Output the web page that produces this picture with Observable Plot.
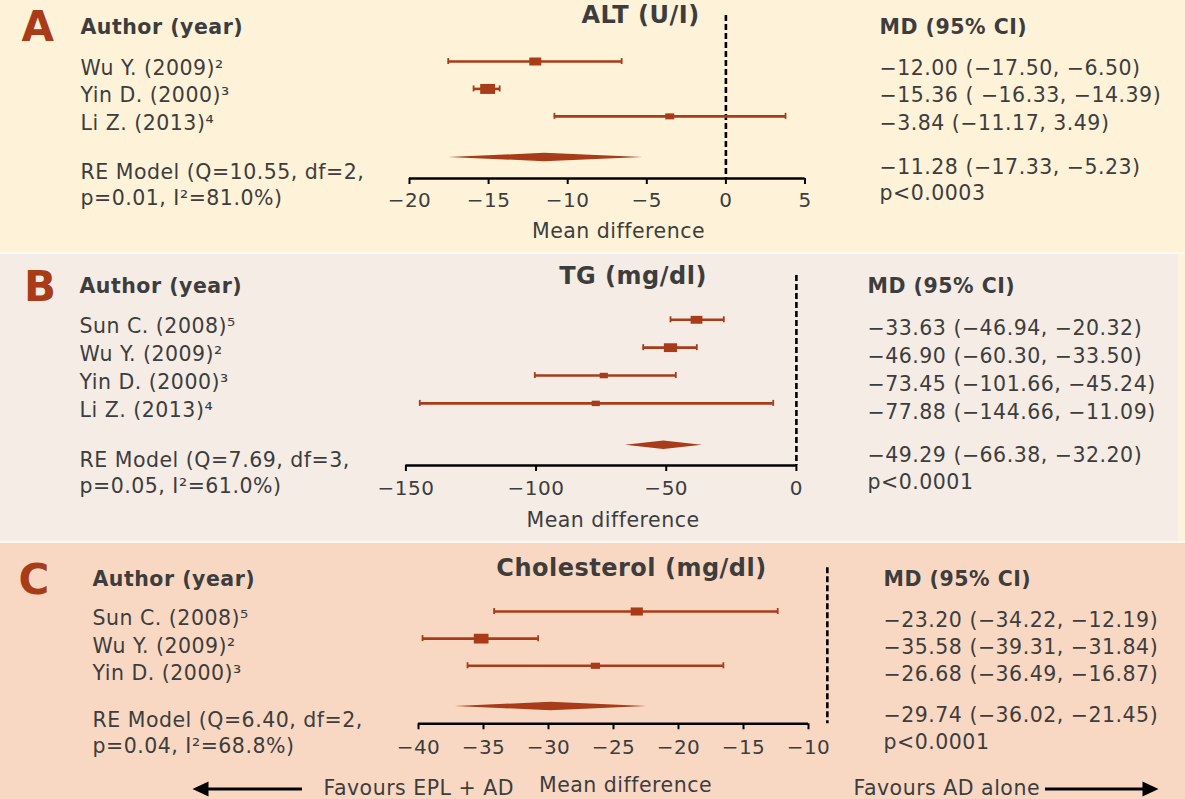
<!DOCTYPE html>
<html><head><meta charset="utf-8">
<script src="https://cdn.jsdelivr.net/npm/d3@7"></script>
<script src="https://cdn.jsdelivr.net/npm/@observablehq/plot@0.6"></script>
<style>
html,body{margin:0;padding:0;background:#fdf9f2;overflow:hidden;}
#chart{width:1185px;}
#chart svg{display:block;max-width:none;}
.gap{height:2px;}
</style></head><body><div id="chart"></div>
<script>
// ================= DATA =================
// Panel A – ALT (U/I)
const altStudies   = ["Wu Y. (2009)²", "Yin D. (2000)³", "Li Z. (2013)⁴"];
const altMD        = [-12.05, -15.06, -3.55];
const altLower     = [-17.55, -15.95, -10.84];
const altUpper     = [-6.59, -14.30, 3.77];
const altWeight    = [32, 50, 18];
const altCI        = ["−12.00 (−17.50, −6.50)", "−15.36 ( −16.33, −14.39)", "−3.84 (−11.17, 3.49)"];
const altPooled    = [-11.46, -17.53, -5.26];          // estimate, lower, upper
const altModel     = "RE Model (Q=10.55, df=2,\np=0.01, I²=81.0%)";
const altPooledTxt = "−11.28 (−17.33, −5.23)\np<0.0003";
const altTicks     = [-20, -15, -10, -5, 0, 5];
const altDomain    = [-20, 5];
const altRef       = 0;

// Panel B – TG (mg/dl)
const tgStudies   = ["Sun C. (2008)⁵", "Wu Y. (2009)²", "Yin D. (2000)³", "Li Z. (2013)⁴"];
const tgMD        = [-38.37, -48.36, -73.98, -77.06];
const tgLower     = [-48.36, -58.84, -100.49, -144.67];
const tgUpper     = [-27.88, -38.25, -46.32, -8.90];
const tgWeight    = [31, 39, 15, 15];
const tgCI        = ["−33.63 (−46.94, −20.32)", "−46.90 (−60.30, −33.50)", "−73.45 (−101.66, −45.24)", "−77.88 (−144.66, −11.09)"];
const tgPooled    = [-50.93, -65.64, -36.18];
const tgModel     = "RE Model (Q=7.69, df=3,\np=0.05, I²=61.0%)";
const tgPooledTxt = "−49.29 (−66.38, −32.20)\np<0.0001";
const tgTicks     = [-150, -100, -50, 0];
const tgDomain    = [-150, 0];
const tgRef       = 0;

// Panel C – Cholesterol (mg/dl)
const chStudies   = ["Sun C. (2008)⁵", "Wu Y. (2009)²", "Yin D. (2000)³"];
const chMD        = [-23.21, -35.18, -26.39];
const chLower     = [-34.18, -39.69, -36.23];
const chUpper     = [-12.37, -30.80, -16.55];
const chWeight    = [33, 48, 19];
const chCI        = ["−23.20 (−34.22, −12.19)", "−35.58 (−39.31, −31.84)", "−26.68 (−36.49, −16.87)"];
const chPooled    = [-29.82, -37.18, -22.44];
const chModel     = "RE Model (Q=6.40, df=2,\np=0.04, I²=68.8%)";
const chPooledTxt = "−29.74 (−36.02, −21.45)\np<0.0001";
const chTicks     = [-40, -35, -30, -25, -20, -15, -10];
const chDomain    = [-40, -10];
const chRef       = -8.55;

const panelLetters = ["A", "B", "C"];
const panelTitles  = ["ALT (U/I)", "TG (mg/dl)", "Cholesterol (mg/dl)"];
const headerLeft   = "Author (year)";
const headerRight  = "MD (95% CI)";
const axisLabel    = "Mean difference";
const favourLeft   = "Favours EPL + AD";
const favourRight  = "Favours AD alone";

// ================= STYLE / LAYOUT =================
const W = 1185;
const MARK = "#a83c18", INK = "#3d3d3d";
const FONT = "DejaVu Sans, Verdana, sans-serif";
const FS = 20.5, TFS = 24;

const layouts = [
  {height:252, bg:"#fef2d9", left:409, right:804.5, top:15, axis:178, row1:61, sum:157,
   lx:80, rx:879, letterX:21, letterY:25.3, headY:25.8, titleX:640, titleY:14,
   dyL:6.8, dyR:7, reL:3, reR:-2, tickPad:8, labX:618, labY:230},
  {height:287, bg:"#f5ece6", left:405.4, right:795.9, top:21, axis:211, row1:65.3, sum:190.7,
   lx:79, rx:867, letterX:23.5, letterY:31, headY:31, titleX:632.5, titleY:21,
   dyL:7, dyR:9, reL:3.6, reR:-1.4, tickPad:9, labX:612.5, labY:265},
  {height:256, bg:"#f9d8c3", left:418, right:808, top:24.3, axis:180.3, row1:68, sum:163,
   lx:92, rx:883, letterX:18, letterY:35, headY:35.5, titleX:631, titleY:24,
   dyL:7.3, dyR:9, reL:2.3, reR:-2.7, tickPad:10, labX:625, labY:241.5}
];

const rectSymbol = {
  draw(context, size) {
    const h = Math.sqrt(size / 1.5), w = 1.5 * h;
    context.rect(-w / 2, -h / 2, w, h);
  }
};

const panels = [
  {studies:altStudies, md:altMD, lo:altLower, hi:altUpper, w:altWeight, ci:altCI, pooled:altPooled,
   model:altModel, pooledTxt:altPooledTxt, ticks:altTicks, domain:altDomain, ref:altRef},
  {studies:tgStudies, md:tgMD, lo:tgLower, hi:tgUpper, w:tgWeight, ci:tgCI, pooled:tgPooled,
   model:tgModel, pooledTxt:tgPooledTxt, ticks:tgTicks, domain:tgDomain, ref:tgRef},
  {studies:chStudies, md:chMD, lo:chLower, hi:chUpper, w:chWeight, ci:chCI, pooled:chPooled,
   model:chModel, pooledTxt:chPooledTxt, ticks:chTicks, domain:chDomain, ref:chRef}
];

function makePanel(p, L, k) {
  const n = p.studies.length;
  const sumRow = n + 1.5;
  const step = (L.sum - L.row1) / (sumRow - 1);
  const rows = p.studies.map((s, i) => ({row: i + 1, label: s, md: p.md[i], lo: p.lo[i], hi: p.hi[i], w: p.w[i], ci: p.ci[i]}));
  const caps = rows.flatMap(d => [{row: d.row, v: d.lo}, {row: d.row, v: d.hi}]);
  const capH = 3 / step, diaH = 4.2 / step;
  const [est, plo, phi] = p.pooled;
  const diamond = [
    {x: plo, y1: sumRow, y2: sumRow},
    {x: est, y1: sumRow - diaH, y2: sumRow + diaH},
    {x: phi, y1: sumRow, y2: sumRow}
  ];
  const axisRow = 1 + (L.axis - L.row1) / step;
  const ml = L.left, mr = W - L.right, mt = L.top, mb = L.height - L.axis;
  const at = (px, py, fs) => ({frameAnchor: "top-left", dx: px - ml, dy: py - mt + 0.04 * fs, lineAnchor: "middle"});

  const marks = [
    Plot.ruleX([p.ref], {stroke: "black", strokeWidth: 2.6, strokeDasharray: "6,3"}),
    Plot.ruleY([axisRow], {stroke: "black", strokeWidth: 2.5}),
    Plot.axisX({ticks: p.ticks, tickSize: 6, tickPadding: L.tickPad, stroke: "black", strokeWidth: 2,
      fill: INK, fontSize: 20, label: null}),
    Plot.ruleY(rows, {y: "row", x1: "lo", x2: "hi", stroke: MARK, strokeWidth: 2.6}),
    Plot.ruleX(caps, {x: "v", y1: d => d.row - capH, y2: d => d.row + capH, stroke: MARK, strokeWidth: 1.8}),
    Plot.dot(rows, {x: "md", y: "row", r: "w", symbol: rectSymbol, fill: MARK, stroke: "none"}),
    Plot.areaY(diamond, {x: "x", y1: "y1", y2: "y2", fill: MARK}),
    Plot.text(rows, {y: "row", text: "label", frameAnchor: "left", dx: L.lx - ml, dy: L.dyL, textAnchor: "start", fontSize: FS}),
    Plot.text(rows, {y: "row", text: "ci", frameAnchor: "left", dx: L.rx - ml, dy: L.dyR, textAnchor: "start", fontSize: FS,
      style: "letter-spacing:0.35px"}),
    Plot.text([{row: sumRow, t: p.model}], {y: "row", text: "t", frameAnchor: "left", dx: L.lx - ml, dy: L.reL,
      textAnchor: "start", lineAnchor: "top", lineHeight: 1.27, fontSize: FS}),
    Plot.text([{row: sumRow, t: p.pooledTxt}], {y: "row", text: "t", frameAnchor: "left", dx: L.rx - ml, dy: L.reR,
      textAnchor: "start", lineAnchor: "top", lineHeight: 1.28, fontSize: FS, style: "letter-spacing:0.35px"}),
    Plot.text([headerLeft], {...at(L.lx, L.headY, FS), textAnchor: "start", fontWeight: "bold", fontSize: FS}),
    Plot.text([headerRight], {...at(L.rx, L.headY, FS), textAnchor: "start", fontWeight: "bold", fontSize: FS}),
    Plot.text([panelTitles[k]], {...at(L.titleX, L.titleY, TFS), textAnchor: "middle", fontWeight: "bold", fontSize: TFS,
      style: "letter-spacing:0.75px"}),
    Plot.text([panelLetters[k]], {...at(L.letterX, L.letterY, 42), textAnchor: "start", fontWeight: "bold", fontSize: 42, fill: MARK}),
    Plot.text([axisLabel], {...at(L.labX, L.labY, FS), textAnchor: "middle", fontSize: FS})
  ];

  if (k === 2) {
    const fy = L.height - 12;
    marks.push(
      Plot.text([favourLeft], {...at(323, fy + 0.5, FS), textAnchor: "start", fontSize: FS}),
      Plot.text([favourRight], {...at(853, fy + 0.5, FS), textAnchor: "start", fontSize: FS}),
      (index, scales, values, dim) => {
        const g = d3.create("svg:g");
        const y = dim.height - 10;
        const l = dim.marginLeft, r = dim.width - dim.marginRight;
        g.append("line").attr("x1", l - 116).attr("x2", l - 212).attr("y1", y).attr("y2", y)
          .attr("stroke", "black").attr("stroke-width", 3);
        g.append("path").attr("d", `M${l - 225.5},${y}L${l - 209.5},${y - 7.5}L${l - 209.5},${y + 7.5}Z`).attr("fill", "black");
        g.append("line").attr("x1", r + 237).attr("x2", r + 337).attr("y1", y).attr("y2", y)
          .attr("stroke", "black").attr("stroke-width", 3);
        g.append("path").attr("d", `M${r + 350.5},${y}L${r + 334.5},${y - 7.5}L${r + 334.5},${y + 7.5}Z`).attr("fill", "black");
        return g.node();
      }
    );
  }

  let bg = L.bg;
  if (k === 1) bg = `linear-gradient(to right, ${L.bg} 1178px, #fdf3dc 1178px)`;

  return Plot.plot({
    width: W, height: L.height,
    marginLeft: ml, marginRight: mr, marginTop: mt, marginBottom: mb,
    x: {domain: p.domain},
    y: {type: "linear", domain: [1, sumRow], range: [L.row1, L.sum], axis: null},
    r: {type: "sqrt", domain: [0, 50], range: [0, 6.9]},
    style: {background: bg, fontFamily: FONT, fontSize: FS + "px", color: INK, overflow: "visible", letterSpacing: "0.5px"},
    marks
  });
}

const chart = document.getElementById("chart");
panels.forEach((p, k) => {
  chart.appendChild(makePanel(p, layouts[k], k));
  if (k < 2) { const g = document.createElement("div"); g.className = "gap"; chart.appendChild(g); }
});
</script></body></html>
